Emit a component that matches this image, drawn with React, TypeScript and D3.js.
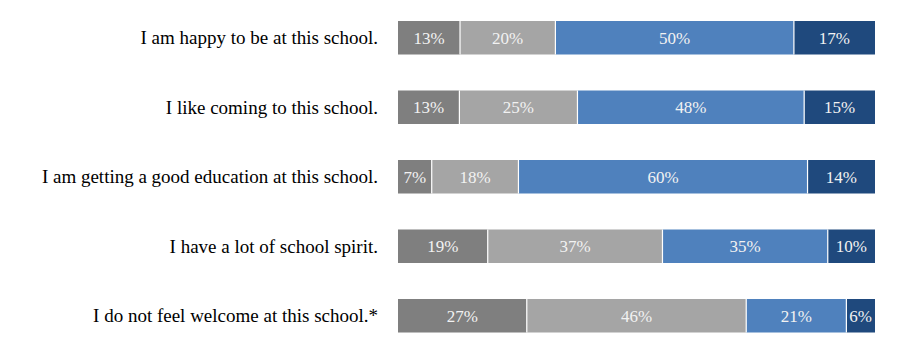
import React from "react";
import * as d3 from "d3";

const categories = [
  "I am happy to be at this school.",
  "I like coming to this school.",
  "I am getting a good education at this school.",
  "I have a lot of school spirit.",
  "I do not feel welcome at this school.*",
];
const seriesA = [13, 13, 7, 19, 27];
const seriesB = [20, 25, 18, 37, 46];
const seriesC = [50, 48, 60, 35, 21];
const seriesD = [17, 15, 14, 10, 6];
const colors = ["#7f7f7f", "#a5a5a5", "#4f81bd", "#1f497d"];

const W = 914;
const H = 359;

export default function App() {
  const series = [seriesA, seriesB, seriesC, seriesD];
  const y = d3
    .scaleBand<string>()
    .domain(categories)
    .range([3, 350.5])
    .paddingInner(0.518)
    .paddingOuter(0.259);
  const x = d3.scaleLinear().domain([0, 1]).range([398, 875]);
  const font = "'Liberation Serif', 'Times New Roman', serif";

  return (
    <svg
      width={W}
      height={H}
      style={{ position: "absolute", left: 0, top: 0, background: "#fff" }}
    >
      {categories.map((cat, i) => {
        const vals = series.map((s) => s[i]);
        const total = d3.sum(vals);
        let cum = 0;
        const y0 = y(cat)!;
        const bh = y.bandwidth();
        const segs = vals.map((v, k) => {
          const a = cum / total;
          cum += v;
          const b = cum / total;
          return { v, k, x0: x(a), x1: x(b) };
        });
        return (
          <g key={cat}>
            <text
              x={378}
              y={y0 + bh / 2}
              dy="0.34em"
              textAnchor="end"
              fontFamily={font}
              fontSize={19}
              fill="#000"
            >
              {cat}
            </text>
            {segs.map((s) => (
              <rect
                key={s.k}
                x={s.x0}
                y={y0}
                width={s.x1 - s.x0}
                height={bh}
                fill={colors[s.k]}
              />
            ))}
            {segs.slice(1).map((s) => (
              <line
                key={"l" + s.k}
                x1={s.x0}
                x2={s.x0}
                y1={y0}
                y2={y0 + bh}
                stroke="#fff"
                strokeWidth={1.2}
              />
            ))}
            {segs.map((s) => (
              <text
                key={"t" + s.k}
                x={(s.x0 + s.x1) / 2}
                y={y0 + bh / 2}
                dy="0.36em"
                textAnchor="middle"
                fontFamily={font}
                fontSize={17}
                fill="#f2f2f2"
              >
                {s.v + "%"}
              </text>
            ))}
          </g>
        );
      })}
    </svg>
  );
}
